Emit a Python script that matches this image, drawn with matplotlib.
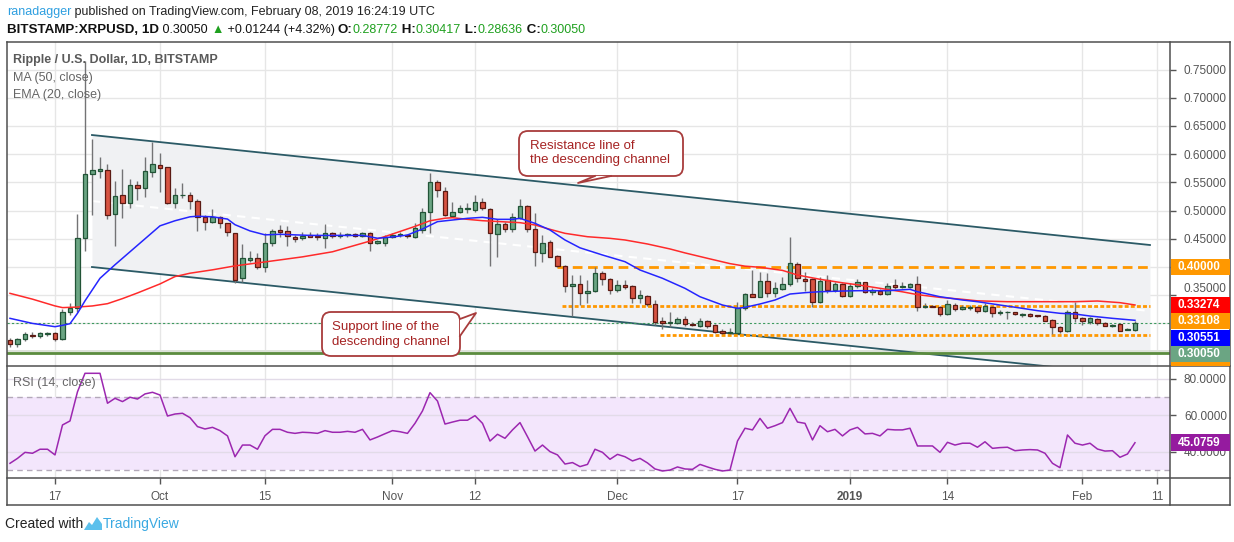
import matplotlib

matplotlib.use("Agg")
import matplotlib.pyplot as plt  # noqa: E402
import numpy as np
from matplotlib.lines import Line2D
from matplotlib.patches import FancyBboxPatch, Polygon, Rectangle
from matplotlib.transforms import IdentityTransform

plt.rcParams["font.family"] = ["Liberation Sans", "DejaVu Sans"]

W, H = 1234, 542

# ---------------------------------------------------------------------------
# Data (day 0 = 2018-09-17, one candle per day up to 2019-02-08)
# ---------------------------------------------------------------------------

days = np.arange(-6, 145)

opens = [
    0.2706, 0.2629, 0.2718, 0.2790, 0.2777, 0.2815, 0.2824,
    0.2718, 0.3196, 0.3267, 0.4508, 0.5643, 0.5710, 0.5720, 0.4934, 0.5277, 0.5140,
    0.5454, 0.5395, 0.5679, 0.5809, 0.5767, 0.5140, 0.5270, 0.5277, 0.5170, 0.4881,
    0.4804, 0.4892, 0.4786, 0.4597, 0.3800, 0.4124, 0.4154, 0.3995, 0.4420, 0.4656,
    0.4644, 0.4532, 0.4508, 0.4562, 0.4555, 0.4508, 0.4597, 0.4550, 0.4562, 0.4585,
    0.4550, 0.4608, 0.4420, 0.4431, 0.4526, 0.4567, 0.4567, 0.4537, 0.4656, 0.4970,
    0.5501, 0.5353, 0.4910, 0.4970, 0.5035, 0.5011, 0.5147, 0.5023, 0.4580, 0.4762,
    0.4668, 0.4874, 0.5082, 0.4668, 0.4243, 0.4449, 0.4195, 0.4023, 0.3663, 0.3693,
    0.3533, 0.3574, 0.3888, 0.3787, 0.3592, 0.3681, 0.3663, 0.3444, 0.3486, 0.3338,
    0.3043, 0.3001, 0.3001, 0.3084, 0.2990, 0.2960, 0.3043, 0.2972, 0.2865, 0.2824,
    0.2835, 0.3267, 0.3516, 0.3473, 0.3752, 0.3545, 0.3604, 0.3693, 0.4047, 0.3787,
    0.3782, 0.3374, 0.3770, 0.3592, 0.3693, 0.3486, 0.3663, 0.3728, 0.3551, 0.3574,
    0.3521, 0.3681, 0.3640, 0.3651, 0.3693, 0.3285, 0.3309, 0.3285, 0.3161, 0.3326,
    0.3250, 0.3280, 0.3285, 0.3226, 0.3285, 0.3179, 0.3195, 0.3202, 0.3158, 0.3161,
    0.3143, 0.3131, 0.3060, 0.2931, 0.2871, 0.3197, 0.3090, 0.3030, 0.3073, 0.3001,
    0.2960, 0.2984, 0.2883, 0.28772,
]
highs = [
    0.2735, 0.2747, 0.2850, 0.2840, 0.2850, 0.2840, 0.2840,
    0.3250, 0.3356, 0.4940, 0.7650, 0.6270, 0.5956, 0.5826, 0.5530, 0.5738, 0.5560,
    0.5530, 0.5945, 0.6222, 0.6016, 0.5780, 0.5395, 0.5484, 0.5324, 0.5206, 0.4920,
    0.5028, 0.4910, 0.4786, 0.4597, 0.4402, 0.4289, 0.4243, 0.4597, 0.4674, 0.4745,
    0.4733, 0.4567, 0.4626, 0.4626, 0.4597, 0.4762, 0.4615, 0.4626, 0.4608, 0.4597,
    0.4626, 0.4626, 0.4478, 0.4567, 0.4608, 0.4626, 0.4580, 0.4774, 0.5040, 0.5661,
    0.5543, 0.5424, 0.5158, 0.5099, 0.5129, 0.5277, 0.5218, 0.5040, 0.4845, 0.4804,
    0.4952, 0.5200, 0.5099, 0.4952, 0.4567, 0.4479, 0.4213, 0.4035, 0.3858, 0.3858,
    0.3770, 0.4005, 0.3935, 0.3800, 0.3770, 0.3770, 0.3681, 0.3592, 0.3504, 0.3415,
    0.3119, 0.3208, 0.3119, 0.3131, 0.3030, 0.3090, 0.3060, 0.2984, 0.2900, 0.2924,
    0.3385, 0.3533, 0.3947, 0.3917, 0.3888, 0.3740, 0.3829, 0.4526, 0.4083, 0.3917,
    0.3800, 0.3829, 0.3858, 0.3740, 0.3711, 0.3711, 0.3782, 0.3740, 0.3620, 0.3604,
    0.3711, 0.3787, 0.3740, 0.3722, 0.3840, 0.3356, 0.3326, 0.3309, 0.3415, 0.3356,
    0.3326, 0.3326, 0.3309, 0.3356, 0.3309, 0.3238, 0.3226, 0.3208, 0.3190, 0.3179,
    0.3155, 0.3149, 0.3073, 0.2954, 0.3238, 0.3385, 0.3108, 0.3120, 0.3090, 0.3030,
    0.2989, 0.2989, 0.2924, 0.30417,
]
lows = [
    0.2585, 0.2585, 0.2690, 0.2740, 0.2750, 0.2770, 0.2690,
    0.2700, 0.3149, 0.3200, 0.4289, 0.4922, 0.5572, 0.4845, 0.4378, 0.4874, 0.5052,
    0.5188, 0.5247, 0.5590, 0.5336, 0.5120, 0.5052, 0.5218, 0.5028, 0.4644, 0.4656,
    0.4774, 0.4697, 0.4555, 0.3722, 0.3740, 0.4094, 0.3959, 0.3917, 0.4378, 0.4537,
    0.4378, 0.4449, 0.4479, 0.4530, 0.4479, 0.4342, 0.4520, 0.4508, 0.4537, 0.4532,
    0.4537, 0.4289, 0.4408, 0.4372, 0.4508, 0.4537, 0.4520, 0.4508, 0.4597, 0.4597,
    0.5247, 0.4904, 0.4892, 0.4952, 0.4952, 0.4981, 0.5011, 0.4018, 0.4183, 0.4626,
    0.4626, 0.4845, 0.4626, 0.4018, 0.4094, 0.4172, 0.4005, 0.3562, 0.3131, 0.3326,
    0.3367, 0.3562, 0.3681, 0.3516, 0.3562, 0.3604, 0.3367, 0.3367, 0.3309, 0.2972,
    0.2895, 0.2942, 0.2989, 0.2960, 0.2954, 0.2942, 0.2924, 0.2824, 0.2812, 0.2806,
    0.2824, 0.3238, 0.3462, 0.3462, 0.3473, 0.3473, 0.3592, 0.3669, 0.3740, 0.3580,
    0.3285, 0.3356, 0.3545, 0.3562, 0.3462, 0.3462, 0.3622, 0.3533, 0.3504, 0.3504,
    0.3504, 0.3610, 0.3634, 0.3634, 0.3226, 0.3267, 0.3285, 0.3131, 0.3149, 0.3226,
    0.3238, 0.3238, 0.3179, 0.3208, 0.3120, 0.3149, 0.3078, 0.3149, 0.3120, 0.3120,
    0.3120, 0.3048, 0.2812, 0.2824, 0.2853, 0.3030, 0.2972, 0.2989, 0.2972, 0.2954,
    0.2942, 0.2865, 0.2883, 0.28636,
]
closes = [
    0.2629, 0.2718, 0.2812, 0.2775, 0.2824, 0.2824, 0.2718,
    0.3196, 0.3267, 0.4508, 0.5643, 0.5720, 0.5730, 0.4922, 0.5259, 0.5140, 0.5454,
    0.5395, 0.5702, 0.5826, 0.5750, 0.5140, 0.5277, 0.5280, 0.5170, 0.4881, 0.4804,
    0.4881, 0.4786, 0.4615, 0.3770, 0.4154, 0.4154, 0.3995, 0.4420, 0.4644, 0.4626,
    0.4550, 0.4502, 0.4555, 0.4537, 0.4532, 0.4608, 0.4555, 0.4562, 0.4585, 0.4550,
    0.4608, 0.4420, 0.4466, 0.4526, 0.4573, 0.4570, 0.4544, 0.4686, 0.4970, 0.5501,
    0.5365, 0.4922, 0.4981, 0.5040, 0.5042, 0.5158, 0.5040, 0.4597, 0.4762, 0.4668,
    0.4881, 0.5082, 0.4668, 0.4260, 0.4420, 0.4183, 0.4023, 0.3669, 0.3693, 0.3533,
    0.3574, 0.3900, 0.3782, 0.3592, 0.3681, 0.3651, 0.3444, 0.3504, 0.3338, 0.3030,
    0.3001, 0.3019, 0.3084, 0.2989, 0.2980, 0.3048, 0.2960, 0.2853, 0.2824, 0.2842,
    0.3267, 0.3516, 0.3473, 0.3752, 0.3545, 0.3634, 0.3693, 0.4065, 0.3800, 0.3757,
    0.3374, 0.3752, 0.3592, 0.3693, 0.3486, 0.3663, 0.3728, 0.3562, 0.3592, 0.3521,
    0.3663, 0.3640, 0.3669, 0.3699, 0.3285, 0.3309, 0.3297, 0.3161, 0.3344, 0.3250,
    0.3285, 0.3288, 0.3226, 0.3309, 0.3179, 0.3202, 0.3200, 0.3161, 0.3165, 0.3137,
    0.3131, 0.3048, 0.2931, 0.2871, 0.3208, 0.3090, 0.3048, 0.3090, 0.3001, 0.2960,
    0.2977, 0.2871, 0.2906, 0.30050,
]

ema_days = [-6, -3, 0, 1, 2, 3, 4, 6, 8, 10, 12, 14, 16, 18, 19, 21, 23, 24, 26, 28,
            30, 32, 34, 37, 41, 43, 45, 47, 49, 51, 53, 55, 57, 59, 61, 62, 64, 66, 68, 70,
            73, 76, 78, 81, 84, 86, 89, 91, 92, 94, 96, 98, 100, 102, 105, 107, 109, 111,
            114, 115, 118, 121, 123, 126, 129, 131, 134, 136, 138, 141, 144]
ema_vals = [0.309, 0.300, 0.2942, 0.2966, 0.2995, 0.318, 0.340, 0.380, 0.404, 0.427,
            0.450, 0.473, 0.482, 0.489, 0.490, 0.489, 0.485, 0.475, 0.464, 0.457,
            0.458, 0.457, 0.456, 0.456, 0.456, 0.451, 0.4532, 0.4567, 0.4674, 0.4804,
            0.4833, 0.4863, 0.4881, 0.4845, 0.4845, 0.4863, 0.4774, 0.4656, 0.4479, 0.4340,
            0.4213, 0.4094, 0.3947, 0.3800, 0.3622, 0.3473, 0.3326, 0.3267, 0.3285, 0.3344,
            0.3415, 0.3521, 0.3545, 0.3562, 0.3574, 0.3580, 0.3580, 0.3580, 0.3604, 0.3562,
            0.3473, 0.3415, 0.3385, 0.3326, 0.3267, 0.3226, 0.3179, 0.3167, 0.3131, 0.3090,
            0.3055]

ma_days = [-6, -3, 0, 1, 3, 5, 7, 9, 11, 14, 16, 18, 21, 24, 28, 33, 37, 42, 44, 46,
           48, 50, 52, 53, 55, 57, 60, 62, 64, 66, 68, 71, 74, 76, 79, 82, 84, 87, 90, 92,
           94, 97, 99, 102, 105, 107, 110, 113, 115, 118, 121, 123, 127, 131, 136, 139,
           142, 144]
ma_vals = [0.3533, 0.343, 0.331, 0.328, 0.329, 0.331, 0.335, 0.344, 0.354, 0.370,
           0.383, 0.389, 0.395, 0.402, 0.409, 0.418, 0.427, 0.446, 0.454, 0.463,
           0.472, 0.482, 0.4865, 0.4874, 0.4845, 0.4821, 0.4800, 0.4786, 0.4745, 0.4668,
           0.4597, 0.4537, 0.4508, 0.4479, 0.4408, 0.4320, 0.4250, 0.4154, 0.4060, 0.4015,
           0.3995, 0.3940, 0.3858, 0.3782, 0.3720, 0.3685, 0.3622, 0.3560, 0.3510, 0.3462,
           0.3427, 0.3400, 0.3385, 0.3385, 0.3385, 0.3397, 0.3368, 0.3327]

rsi_vals = [
    33.8, 36.5, 39.8, 39.3, 41.5, 41.5, 38.4,
    54.8, 57.0, 73.0, 83.1, 83.1, 83.1, 66.7, 69.4, 67.6, 70.0,
    69.0, 71.8, 72.7, 71.2, 59.7, 60.8, 61.2, 58.8, 53.9, 52.6,
    53.5, 51.7, 48.8, 37.4, 43.8, 43.8, 41.5, 48.9, 52.4, 52.4,
    50.8, 50.2, 50.8, 50.6, 50.2, 51.7, 50.8, 50.8, 51.3, 50.8,
    52.4, 46.6, 48.2, 50.0, 51.7, 51.1, 50.2, 55.7, 62.5, 72.5,
    67.9, 55.3, 56.4, 57.4, 57.4, 59.9, 55.7, 46.0, 49.7, 47.5,
    52.1, 56.1, 48.4, 40.5, 43.8, 40.2, 38.4, 33.4, 34.2, 32.0,
    33.2, 41.5, 39.8, 36.0, 38.7, 37.4, 35.1, 36.5, 34.0, 30.7,
    29.6, 30.1, 31.8, 30.7, 30.5, 33.2, 31.8, 30.5, 29.6, 30.1,
    46.0, 53.0, 52.1, 58.4, 53.0, 54.4, 56.1, 63.9, 56.4, 55.7,
    46.6, 54.4, 51.1, 52.4, 48.8, 52.1, 53.5, 49.9, 50.2, 48.8,
    52.4, 52.1, 52.1, 53.0, 43.3, 43.3, 43.3, 39.8, 45.3, 43.8,
    44.8, 44.8, 42.6, 45.6, 42.0, 42.4, 42.6, 40.7, 41.1, 41.3,
    41.1, 39.3, 33.8, 31.4, 49.3, 44.8, 43.8, 44.8, 41.6, 40.5,
    40.7, 37.1, 38.9, 45.0759,
]

# drawings on the chart
channel_days = [4.93, 146.0]
channel_upper = [0.634, 0.439]
channel_lower = [0.400, 0.205]
level_resist = 0.40000
level_mid = 0.33108
level_support = 0.2794
level_base = 0.2475
level_days = {"resist": 66.9, "mid": 67.6, "support": 80.7}
level_end = 146.0
last_close = 0.30050
ma_last = 0.33274
ema_last = 0.30551
rsi_last = 45.0759

tick_days = [0, 14, 28, 45, 56, 75, 91, 106, 119, 137, 147]
tick_labels = ["17", "Oct", "15", "Nov", "12", "Dec", "17", "2019", "14", "Feb", "11"]
price_ticks = [0.35, 0.40, 0.45, 0.50, 0.55, 0.60, 0.65, 0.70, 0.75]
price_grid = [0.25, 0.30] + price_ticks
rsi_ticks = [40, 60, 80]

UP, DOWN = "#6ba583", "#d75442"
UP_EDGE, DOWN_EDGE = "#225437", "#5b1a13"
ORANGE = "#ff9800"
GRID = "#e6e6e6"
FRAME = "#4f4f4f"
TXT = "#555555"
ID = IdentityTransform()


def fx(x):
    return x / W


def fy(y):
    return 1 - y / H


def fig_line(fig, xs, ys, **kw):
    fig.add_artist(Line2D(xs, [H - y for y in ys], transform=ID, **kw))


def text_segments(fig, x, y, segments):
    renderer = fig.canvas.get_renderer()
    for txt, color, weight, size in segments:
        t = fig.text(fx(x), fy(y), txt, color=color, fontsize=size,
                     fontweight=weight, ha="left", va="center")
        x += t.get_window_extent(renderer=renderer).width


def callout(fig, box, base, tip, lines, text_xy):
    x0, y0, x1, y1 = box
    ec = "#a83c3c"
    fig.add_artist(FancyBboxPatch((x0, H - y1), x1 - x0, y1 - y0,
                                  boxstyle="round,pad=0,rounding_size=9",
                                  transform=ID, fc="white", ec=ec, lw=1.3, zorder=6))
    pts = [(base[0][0], H - base[0][1]), (tip[0], H - tip[1]), (base[1][0], H - base[1][1])]
    fig.add_artist(Polygon(pts, closed=True, transform=ID, fc="white", ec="none", zorder=6.1))
    fig.add_artist(Line2D([p[0] for p in pts], [p[1] for p in pts], transform=ID,
                          color=ec, lw=1.3, zorder=6.2))
    tx, ty = text_xy
    for i, ln in enumerate(lines):
        fig.text(fx(tx), fy(ty + i * 14.5), ln, color="#a52222", fontsize=9.5,
                 ha="left", va="center", zorder=7)


# ---------------------------------------------------------------------------
# Figure
# ---------------------------------------------------------------------------

fig = plt.figure(figsize=(W / 100, H / 100), dpi=100)
fig.patch.set_facecolor("white")

ax = fig.add_axes([fx(7), fy(366), (1170 - 7) / W, (366 - 42) / H])
ax_rsi = fig.add_axes([fx(7), fy(478), (1170 - 7) / W, (478 - 366) / H], sharex=ax)

ax.set_xlim(-6.4, 148.67)
ax.set_ylim(0.2245, 0.7989)
ax_rsi.set_ylim(25.75, 87.1)

for a in (ax, ax_rsi):
    for s in a.spines.values():
        s.set_visible(False)
    for d in tick_days:
        a.axvline(d, color=GRID, lw=1, zorder=0)
for p in price_grid:
    ax.axhline(p, color=GRID, lw=1, zorder=0)

# channel
cd = np.array(channel_days)
cu = np.array(channel_upper)
cl = np.array(channel_lower)
ax.fill_between(cd, cl, cu, color="#f0f1f3", zorder=0.5, lw=0)
ax.plot(cd, cu, color="#2b5a66", lw=1.3, zorder=2)
ax.plot(cd, cl, color="#2b5a66", lw=1.3, zorder=2)
ax.plot(cd, (cu + cl) / 2, color="white", lw=1.5, ls=(0, (4, 3)), zorder=1)

# horizontal drawings
ax.axhspan(level_base, level_base + 0.0055, color="#dde2da", zorder=1, lw=0)
ax.axhline(level_base, color="#5b8c3e", lw=2, zorder=2)
ax.axhline(last_close, color="#3d9a5f", lw=0.8, ls=(0, (2, 2)), zorder=2)
ax.hlines(level_resist, level_days["resist"], level_end, color=ORANGE, lw=2,
          ls=(0, (3.5, 2)), zorder=2.5)
ax.hlines(level_mid, level_days["mid"], level_end, color=ORANGE, lw=2,
          ls=(0, (1.4, 0.8)), zorder=2.5)
ax.hlines(level_support, level_days["support"], level_end, color=ORANGE, lw=2,
          ls=(0, (1.4, 0.8)), zorder=2.5)

# candles
o = np.array(opens)
h = np.array(highs)
lo = np.array(lows)
c = np.array(closes)
up = c >= o
bottom = np.minimum(o, c)
height = np.maximum(np.abs(c - o), 0.0012)
ax.vlines(days, lo, h, color="#737375", lw=1, zorder=3)
ax.bar(days[up], height[up], bottom=bottom[up], width=0.64, color=UP,
       edgecolor=UP_EDGE, lw=0.9, zorder=4)
ax.bar(days[~up], height[~up], bottom=bottom[~up], width=0.64, color=DOWN,
       edgecolor=DOWN_EDGE, lw=0.9, zorder=4)

# indicators
ax.plot(ma_days, ma_vals, color="#ff2a2a", lw=1.1, zorder=5)
ax.plot(ema_days, ema_vals, color="#2525ff", lw=1.1, zorder=5)

# axes ticks (the 0.40 tick text sits under the 0.40000 level label)
ax.yaxis.tick_right()
ax.set_yticks(price_ticks,
              ["" if abs(v - level_resist) < 1e-9 else f"{v:.5f}" for v in price_ticks])
ax.tick_params(axis="y", length=4, width=1, color=TXT, labelsize=8.5,
               labelcolor=TXT, pad=6)
ax.tick_params(axis="x", length=0, labelbottom=False)
for tk in ax.yaxis.get_major_ticks():
    if abs(tk.get_loc() - 0.35) < 1e-9:
        # lift the partly covered label above the stacked level labels
        tk.label2.set_verticalalignment("bottom")
ax.tick_params(axis="x", length=0, labelbottom=False)

# RSI pane
ax_rsi.axhspan(30, 70, color="#f3e6fc", zorder=0.5, lw=0)
for r in rsi_ticks:
    ax_rsi.axhline(r, color="#e2dbe8", lw=1, zorder=0.6)
ax_rsi.axhline(70, color="#b3a9b9", lw=1, ls=(0, (4, 3)), zorder=1)
ax_rsi.axhline(30, color="#b3a9b9", lw=1, ls=(0, (4, 3)), zorder=1)
ax_rsi.plot(days, rsi_vals, color="#9c27b0", lw=1.1, zorder=3)
ax_rsi.yaxis.tick_right()
ax_rsi.set_yticks(rsi_ticks, [f"{v:.4f}" for v in rsi_ticks])
ax_rsi.tick_params(axis="y", length=4, width=1, color=TXT, labelsize=8.5,
                   labelcolor=TXT, pad=6)
ax_rsi.set_xticks(tick_days, tick_labels)
ax_rsi.tick_params(axis="x", length=4, width=1, color=TXT, labelsize=8.5,
                   labelcolor=TXT, pad=5)
for lab in ax_rsi.get_xticklabels():
    if lab.get_text() == "2019":
        lab.set_fontweight("bold")

# frame
for xs, ys in (([7, 1230], [42, 42]), ([7, 1230], [505, 505]), ([7, 7], [42, 505]),
               ([1230, 1230], [42, 505]), ([1170, 1170], [42, 505]),
               ([7, 1230], [366, 366]), ([7, 1230], [478, 478])):
    fig_line(fig, xs, ys, color=FRAME, lw=1.1, zorder=5)


# price-axis labels (stacked like the platform does)
def ypix(a, v):
    return H - a.transData.transform((0, v))[1]


labels = [(level_resist, ORANGE), (ma_last, "#ff0000"), (level_mid, ORANGE),
          (ema_last, "#0000ff"), (last_close, UP), (level_support, ORANGE)]
prev = -100
for val, col in labels:
    yc = max(ypix(ax, val), prev + 16.3)
    prev = yc
    top, bot = yc - 8, min(yc + 8, 366)
    if top >= 366:
        continue
    fig.add_artist(Rectangle((1171, H - bot), 59, bot - top, transform=ID,
                             fc=col, ec="none", zorder=8))
    if bot - top > 12:
        fig.text(fx(1178), fy(yc), f"{val:.5f}", color="white", fontsize=8.5,
                 fontweight="bold", ha="left", va="center", zorder=9)

yc = ypix(ax_rsi, rsi_last)
fig.add_artist(Rectangle((1171, H - yc - 8.5), 59, 17, transform=ID,
                         fc="#951b9f", ec="none", zorder=8))
fig.text(fx(1178), fy(yc), f"{rsi_last:.4f}", color="white", fontsize=8.5,
         fontweight="bold", ha="left", va="center", zorder=9)

# pane legends
fig.text(fx(13), fy(60), "Ripple / U.S. Dollar, 1D, BITSTAMP", color="#5a5a5a",
         fontsize=9, fontweight="bold", va="center")
fig.text(fx(13), fy(78), "MA (50, close)", color="#666666", fontsize=9, va="center")
fig.text(fx(13), fy(95), "EMA (20, close)", color="#666666", fontsize=9, va="center")
fig.text(fx(13), fy(383), "RSI (14, close)", color="#666666", fontsize=9, va="center")

# callouts
callout(fig, (519, 131, 683, 176), [(595, 176), (611, 176)], (578, 183),
        ["Resistance line of", "the descending channel"], (530, 146))
callout(fig, (322, 312, 460, 356), [(460, 319), (460, 336)], (476, 313),
        ["Support line of the", "descending channel"], (332, 327))

# header
GREEN = "#1fa01f"
K = "#111111"
text_segments(fig, 7, 12, [("ranadagger", "#2e9fe0", "normal", 9),
                           (" published on TradingView.com, February 08, 2019 16:24:19 UTC",
                            "#222222", "normal", 9)])
text_segments(fig, 7, 30, [("BITSTAMP:XRPUSD, 1D", K, "bold", 9.6),
                           (" 0.30050 ", K, "normal", 9),
                           ("\u25b2", GREEN, "normal", 9),
                           (" +0.01244 (+4.32%) ", K, "normal", 9),
                           ("O:", K, "bold", 9.6), ("0.28772", GREEN, "normal", 9),
                           (" H:", K, "bold", 9.6), ("0.30417", GREEN, "normal", 9),
                           (" L:", K, "bold", 9.6), ("0.28636", GREEN, "normal", 9),
                           (" C:", K, "bold", 9.6), ("0.30050", GREEN, "normal", 9)])

# footer
fig.text(fx(5), fy(524), "Created with", color="#222222", fontsize=10, va="center")
logo = [(84, 530), (89, 522), (92, 525), (97, 517), (102, 524), (102, 530)]
fig.add_artist(Polygon([(x, H - y) for x, y in logo], closed=True, transform=ID,
                       fc="#5cc0ec", ec="none"))
fig.text(fx(103), fy(524), "TradingView", color="#3aa9e2", fontsize=10, va="center")

fig.savefig("out.png", dpi=100)
plt.close(fig)
